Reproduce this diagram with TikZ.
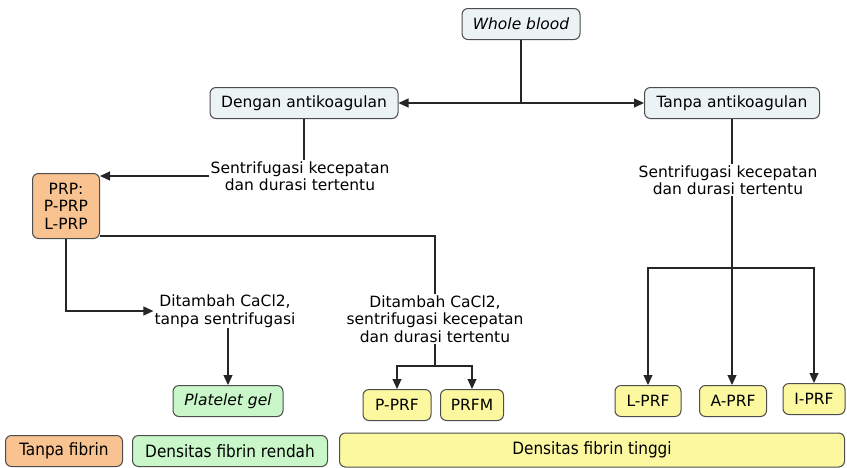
\documentclass[tikz,border=0pt]{standalone}
\usepackage{fontspec}
\setmainfont{DejaVu Sans}
\newfontfamily\condfont{DejaVu Sans Condensed}
\usetikzlibrary{positioning, arrows.meta, calc}

\definecolor{boxblue}{HTML}{EBF3F5}
\definecolor{boxorange}{HTML}{F9C291}
\definecolor{boxgreen}{HTML}{C9F7C9}
\definecolor{boxyellow}{HTML}{FBF8A0}
\definecolor{boxline}{HTML}{4D4D4D}

\begin{document}
\begin{tikzpicture}[
  x=1pt, y=-1pt,
  >={Triangle[length=10pt, width=9pt]},
  box/.style={draw=boxline, rounded corners=6pt, line width=1pt,
    minimum height=31pt, align=center, inner sep=2pt,
    font=\fontsize{15.5}{17.5}\selectfont},
  legend/.style={box, font=\condfont\fontsize{17}{19}\selectfont},
  lbl/.style={align=center, inner sep=1pt,
    font=\fontsize{15.5}{17.5}\selectfont},
  ln/.style={line width=1.1pt, draw=black!85},
  arr/.style={ln, ->},
]
\useasboundingbox (0,0) rectangle (847,467);

% === top ===
\node[box, fill=boxblue, minimum width=118pt, font=\itshape\fontsize{15.5}{17.5}\selectfont]
  (wb) at (521, 24) {Whole blood};
\coordinate (split) at (521, 103);
\node[box, fill=boxblue, minimum width=188pt] (dengan) at (304, 103)
  {Dengan antikoagulan};
\node[box, fill=boxblue, minimum width=175pt] (tanpa) at (732, 103)
  {Tanpa antikoagulan};

\draw[ln] (wb) -- (split);
\draw[arr] (split) -- (dengan);
\draw[arr] (split) -- (tanpa);

% === left branch (with anticoagulant) ===
\node[lbl] (sent1) at (300, 176)
  {Sentrifugasi kecepatan\\dan durasi tertentu};
\node[box, fill=boxorange, minimum width=67pt, minimum height=65pt]
  (prp) at (66, 206) {PRP:\\P-PRP\\L-PRP};

\draw[ln] (dengan.south) -- (dengan.south |- sent1.north);
\draw[arr] (sent1.west) -- (sent1.west -| prp.east);

\node[lbl] (dit1) at (225, 311)
  {Ditambah CaCl2,\\tanpa sentrifugasi};
\node[box, fill=boxgreen, minimum width=110pt, font=\itshape\fontsize{15.5}{17.5}\selectfont]
  (gel) at (228, 401) {Platelet gel};

\draw[arr] (prp.south) |- (dit1.west);
\draw[arr] (gel.north |- dit1.south) -- (gel.north);

\node[lbl] (dit2) at (435, 319)
  {Ditambah CaCl2,\\sentrifugasi kecepatan\\dan durasi tertentu};
\coordinate (split2) at (435, 366);
\node[box, fill=boxyellow, minimum width=68pt] (pprf) at (397, 405) {P-PRF};
\node[box, fill=boxyellow, minimum width=63pt] (prfm) at (472, 405) {PRFM};

\draw[ln] ([yshift=3pt]prp.south east) -| (dit2.north);
\draw[ln] (dit2.south) -- (split2);
\draw[arr] (split2) -| (pprf.north);
\draw[arr] (split2) -| (prfm.north);

% === right branch (without anticoagulant) ===
\node[lbl] (sent2) at (728, 180)
  {Sentrifugasi kecepatan\\dan durasi tertentu};
\coordinate (split3) at (732, 268);
\node[box, fill=boxyellow, minimum width=66pt] (lprf) at (648, 401) {L-PRF};
\node[box, fill=boxyellow, minimum width=67pt] (aprf) at (733, 401) {A-PRF};
\node[box, fill=boxyellow, minimum width=62pt] (iprf) at (814, 399) {I-PRF};

\draw[ln] (tanpa.south) -- (tanpa.south |- sent2.north);
\draw[ln] (tanpa.south |- sent2.south) -- (split3);
\draw[arr] (split3) -| (lprf.north);
\draw[arr] (split3) -- (split3 |- aprf.north);
\draw[arr] (split3) -| (iprf.north);

% === legend ===
\node[legend, fill=boxorange, minimum width=117pt] (leg1) at (64, 451) {Tanpa fibrin};
\node[legend, fill=boxgreen, minimum width=195pt] (leg2) at (230, 451) {Densitas fibrin rendah};
\node[legend, fill=boxyellow, minimum width=505pt, minimum height=34pt]
  (leg3) at (592, 450) {Densitas fibrin tinggi};

\end{tikzpicture}
\end{document}
